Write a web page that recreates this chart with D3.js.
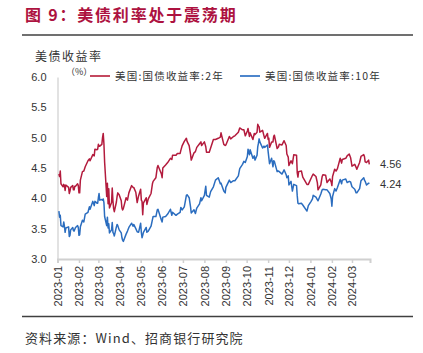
<!DOCTYPE html>
<html>
<head>
<meta charset="utf-8">
<script src="https://cdn.jsdelivr.net/npm/d3@7"></script>
<style>
    body { margin: 0; background: #fff; }
    svg { display: block; font-family: "Liberation Sans", Arial, sans-serif; }
    .cjk { font-family: "Noto Sans CJK SC", sans-serif; }
</style>
</head>
<body>
<svg id="chart" width="423" height="353"></svg>
<script>
// Trading days shown (subset of daily data)
let dates = [
    "2023-01-03","2023-01-04","2023-01-05","2023-01-06","2023-01-09","2023-01-10","2023-01-11","2023-01-12","2023-01-13","2023-01-17",
    "2023-01-18","2023-01-19","2023-01-20","2023-01-23","2023-01-24","2023-01-25","2023-01-26","2023-01-27","2023-01-30","2023-01-31",
    "2023-02-01","2023-02-02","2023-02-03","2023-02-06","2023-02-08","2023-02-10","2023-02-14","2023-02-16","2023-02-17","2023-02-21",
    "2023-02-23","2023-02-24","2023-02-27","2023-02-28",
    "2023-03-01","2023-03-02","2023-03-03","2023-03-06","2023-03-07","2023-03-08","2023-03-09","2023-03-10","2023-03-13","2023-03-14",
    "2023-03-15","2023-03-16","2023-03-17","2023-03-20","2023-03-21","2023-03-22","2023-03-23","2023-03-24","2023-03-27","2023-03-28",
    "2023-03-29","2023-03-31",
    "2023-04-03","2023-04-04","2023-04-05","2023-04-06","2023-04-10","2023-04-12","2023-04-14","2023-04-18","2023-04-20","2023-04-21",
    "2023-04-24","2023-04-26","2023-04-28",
    "2023-05-01","2023-05-02","2023-05-03","2023-05-04","2023-05-05","2023-05-09","2023-05-10","2023-05-12","2023-05-16","2023-05-18",
    "2023-05-19","2023-05-23","2023-05-25","2023-05-26","2023-05-31",
    "2023-06-01","2023-06-02","2023-06-06","2023-06-09","2023-06-13","2023-06-15","2023-06-16","2023-06-21","2023-06-23","2023-06-27",
    "2023-06-28","2023-06-30",
    "2023-07-03","2023-07-06","2023-07-07","2023-07-10","2023-07-12","2023-07-13","2023-07-17","2023-07-19","2023-07-21","2023-07-25",
    "2023-07-27","2023-07-28",
    "2023-08-01","2023-08-03","2023-08-04","2023-08-08","2023-08-10","2023-08-14","2023-08-17","2023-08-21","2023-08-24","2023-08-25",
    "2023-08-29","2023-08-31",
    "2023-09-01","2023-09-06","2023-09-08","2023-09-12","2023-09-14","2023-09-19","2023-09-21","2023-09-25","2023-09-27","2023-09-29",
    "2023-10-02","2023-10-03","2023-10-05","2023-10-06","2023-10-10","2023-10-12","2023-10-13","2023-10-16","2023-10-17","2023-10-18",
    "2023-10-19","2023-10-20","2023-10-24","2023-10-26","2023-10-27","2023-10-31",
    "2023-11-01","2023-11-02","2023-11-03","2023-11-06","2023-11-08","2023-11-09","2023-11-10","2023-11-14","2023-11-16","2023-11-17",
    "2023-11-21","2023-11-24","2023-11-27","2023-11-28","2023-11-30",
    "2023-12-01","2023-12-04","2023-12-06","2023-12-08","2023-12-12","2023-12-13","2023-12-14","2023-12-15","2023-12-19","2023-12-21",
    "2023-12-27","2023-12-29",
    "2024-01-02","2024-01-04","2024-01-05","2024-01-09","2024-01-11","2024-01-12","2024-01-16","2024-01-18","2024-01-19","2024-01-23",
    "2024-01-25","2024-01-29","2024-01-31",
    "2024-02-01","2024-02-02","2024-02-05","2024-02-07","2024-02-09","2024-02-13","2024-02-15","2024-02-16","2024-02-21","2024-02-23",
    "2024-02-26","2024-02-28",
    "2024-03-01","2024-03-05","2024-03-07","2024-03-08","2024-03-12","2024-03-14","2024-03-18","2024-03-19","2024-03-20","2024-03-22",
    "2024-03-25","2024-03-26"
];

// 美国:国债收益率:2年 (%)
let yield2y = [
    4.40,4.36,4.45,4.24,4.19,4.23,4.21,4.13,4.22,4.18,4.08,4.12,4.18,4.21,4.14,4.14,4.20,4.20,4.24,4.21,
    4.09,4.09,4.30,4.44,4.45,4.52,4.62,4.65,4.62,4.72,4.70,4.81,4.80,4.81,
    4.89,4.86,4.86,4.89,5.00,5.07,4.90,4.60,4.03,4.25,3.91,4.16,3.84,3.93,4.17,3.96,3.83,3.78,3.94,4.03,4.09,4.06,
    3.96,3.84,3.81,3.83,4.01,3.97,4.09,4.21,4.18,4.18,4.10,3.93,4.04,
    4.15,3.97,3.95,3.73,3.92,4.01,3.90,3.99,4.08,4.24,4.28,4.34,4.51,4.54,4.40,
    4.34,4.50,4.55,4.59,4.66,4.64,4.71,4.71,4.74,4.74,4.79,4.87,
    4.94,4.99,4.94,4.87,4.73,4.63,4.75,4.77,4.84,4.90,4.93,4.87,
    4.93,4.85,4.76,4.76,4.83,4.97,4.97,4.99,5.01,5.08,4.89,4.87,
    4.88,5.02,4.98,5.02,5.03,5.09,5.16,5.13,5.13,5.03,
    5.11,5.15,5.02,5.08,4.97,5.07,5.05,5.09,5.22,5.19,5.18,5.09,5.12,5.03,4.99,5.07,
    4.97,4.99,4.84,4.93,4.93,5.02,5.04,4.82,4.85,4.89,4.88,4.95,4.87,4.73,4.68,
    4.54,4.62,4.57,4.72,4.71,4.42,4.35,4.44,4.45,4.35,4.23,4.23,
    4.33,4.38,4.40,4.36,4.26,4.14,4.22,4.36,4.39,4.38,4.26,4.32,4.27,
    4.21,4.36,4.48,4.45,4.49,4.66,4.58,4.64,4.66,4.70,4.73,4.67,
    4.53,4.56,4.51,4.48,4.59,4.69,4.72,4.69,4.60,4.59,4.63,4.56
];

// 美国:国债收益率:10年 (%)
let yield10y = [
    3.79,3.69,3.72,3.55,3.53,3.61,3.54,3.44,3.51,3.53,3.37,3.39,3.48,3.52,3.47,3.46,3.49,3.52,3.55,3.52,
    3.39,3.40,3.53,3.64,3.61,3.74,3.77,3.86,3.82,3.95,3.88,3.95,3.92,3.92,
    4.01,4.08,3.97,3.98,3.97,3.99,3.93,3.70,3.55,3.69,3.51,3.58,3.43,3.48,3.60,3.44,3.42,3.38,3.53,3.57,3.55,3.48,
    3.43,3.35,3.31,3.29,3.41,3.46,3.52,3.59,3.54,3.57,3.50,3.45,3.44,
    3.59,3.44,3.35,3.39,3.44,3.52,3.44,3.46,3.54,3.65,3.70,3.70,3.81,3.82,3.64,
    3.61,3.69,3.70,3.74,3.82,3.72,3.77,3.72,3.74,3.77,3.85,3.81,
    3.86,4.05,4.06,4.01,3.86,3.76,3.81,3.75,3.84,3.91,4.01,3.96,
    4.05,4.20,4.05,4.02,4.11,4.19,4.30,4.34,4.24,4.25,4.12,4.09,
    4.18,4.30,4.26,4.29,4.29,4.37,4.49,4.56,4.61,4.59,
    4.69,4.81,4.72,4.80,4.66,4.70,4.63,4.71,4.85,4.91,4.98,4.93,4.83,4.86,4.84,4.88,
    4.77,4.67,4.57,4.66,4.52,4.62,4.61,4.44,4.45,4.44,4.40,4.47,4.39,4.34,4.37,
    4.22,4.28,4.12,4.23,4.21,4.04,3.92,3.91,3.92,3.89,3.79,3.88,
    3.95,3.99,4.05,4.02,3.98,3.96,4.07,4.14,4.15,4.14,4.14,4.08,3.99,
    3.87,4.03,4.16,4.12,4.18,4.31,4.24,4.30,4.32,4.26,4.28,4.27,
    4.19,4.15,4.09,4.09,4.16,4.29,4.34,4.30,4.28,4.22,4.25,4.24
];

let yTicks = [3.0, 3.5, 4.0, 4.5, 5.0, 5.5, 6.0];
let monthTicks = ["2023-01","2023-02","2023-03","2023-04","2023-05","2023-06","2023-07","2023-08",
    "2023-09","2023-10","2023-11","2023-12","2024-01","2024-02","2024-03"];
let seriesNames = ["美国:国债收益率:2年", "美国:国债收益率:10年"];

let red = "#b31b3d", blue = "#2b6dbf", textColor = "#333";

let svg = d3.select("#chart");
let parse = d3.timeParse("%Y-%m-%d");
let parseMonth = d3.timeParse("%Y-%m");

let x = d3.scaleTime()
    .domain([parse("2023-01-01"), parse("2024-03-27")])
    .range([57.5, 370]);

let y = d3.scaleLinear()
    .domain([3, 6])
    .range([259, 77]);

// title + rules
svg.append("text")
    .attr("class", "cjk")
    .attr("x", 25).attr("y", 21)
    .attr("fill", "#ad1240")
    .attr("font-size", 16)
    .attr("font-weight", "bold")
    .attr("letter-spacing", 1.8)
    .text("图 9：美债利率处于震荡期");

svg.append("line")
    .attr("x1", 22).attr("x2", 413).attr("y1", 35).attr("y2", 35)
    .attr("stroke", "#404040").attr("stroke-width", 1.5);

svg.append("line")
    .attr("x1", 22).attr("x2", 413).attr("y1", 316.5).attr("y2", 316.5)
    .attr("stroke", "#404040").attr("stroke-width", 1.5);

svg.append("text")
    .attr("class", "cjk")
    .attr("x", 25).attr("y", 343)
    .attr("fill", textColor)
    .attr("font-size", 13)
    .attr("letter-spacing", 1.1)
    .text("资料来源：Wind、招商银行研究院");

svg.append("text")
    .attr("class", "cjk")
    .attr("x", 35).attr("y", 61)
    .attr("fill", textColor)
    .attr("font-size", 12)
    .attr("letter-spacing", 1.5)
    .text("美债收益率");

svg.append("text")
    .attr("class", "cjk")
    .attr("x", 66).attr("y", 75)
    .attr("fill", textColor)
    .attr("font-size", 9)
    .text("（%）");

// axes
let yAxis = svg.append("g")
    .attr("transform", "translate(57.5,0)")
    .call(d3.axisLeft(y).tickValues(yTicks).tickFormat(d3.format(".1f")).tickSize(0).tickPadding(11));
yAxis.select(".domain").attr("stroke", "#d9d9d9").attr("stroke-width", 1.5);
yAxis.selectAll("text").attr("fill", textColor).attr("font-size", 11)
    .attr("font-family", "Liberation Sans, Arial, sans-serif");

let xAxis = svg.append("g")
    .attr("transform", "translate(0,259)")
    .call(d3.axisBottom(x)
        .tickValues(monthTicks.map(parseMonth))
        .tickFormat(d3.timeFormat("%Y-%m"))
        .tickSizeOuter(0)
        .tickSize(4));
xAxis.select(".domain").attr("stroke", "#d0d0d0").attr("stroke-width", 2);
xAxis.selectAll(".tick line").attr("stroke", "#d0d0d0").attr("stroke-width", 1.5);
xAxis.selectAll("text")
    .attr("fill", textColor)
    .attr("font-size", 11)
    .attr("font-family", "Liberation Sans, Arial, sans-serif")
    .attr("transform", "rotate(-90)")
    .attr("text-anchor", "end")
    .attr("x", -7)
    .attr("y", 0)
    .attr("dy", "0.35em");

// lines
let line = d3.line()
    .x((d, i) => x(parse(dates[i])))
    .y(d => y(d));

svg.append("path")
    .datum(yield2y)
    .attr("fill", "none")
    .attr("stroke", red)
    .attr("stroke-width", 1.5)
    .attr("stroke-linejoin", "round")
    .attr("d", line);

svg.append("path")
    .datum(yield10y)
    .attr("fill", "none")
    .attr("stroke", blue)
    .attr("stroke-width", 1.5)
    .attr("stroke-linejoin", "round")
    .attr("d", line);

// end labels
[yield2y, yield10y].forEach(s => {
    let last = s[s.length - 1];
    svg.append("text")
        .attr("x", 380)
        .attr("y", y(last))
        .attr("dy", "0.35em")
        .attr("fill", textColor)
        .attr("font-size", 11)
        .text(d3.format(".2f")(last));
});

// legend
let legend = [
    {name: seriesNames[0], color: "#c4485f", x: 90},
    {name: seriesNames[1], color: "#4d86cc", x: 240}
];
legend.forEach(l => {
    svg.append("line")
        .attr("x1", l.x).attr("x2", l.x + 20)
        .attr("y1", 76).attr("y2", 76)
        .attr("stroke", l.color).attr("stroke-width", 2);
    svg.append("text")
        .attr("class", "cjk")
        .attr("x", l.x + 25).attr("y", 76)
        .attr("dy", "0.35em")
        .attr("fill", textColor)
        .attr("font-size", 10.5)
        .attr("letter-spacing", 1.2)
        .text(l.name);
});
</script>
</body>
</html>
